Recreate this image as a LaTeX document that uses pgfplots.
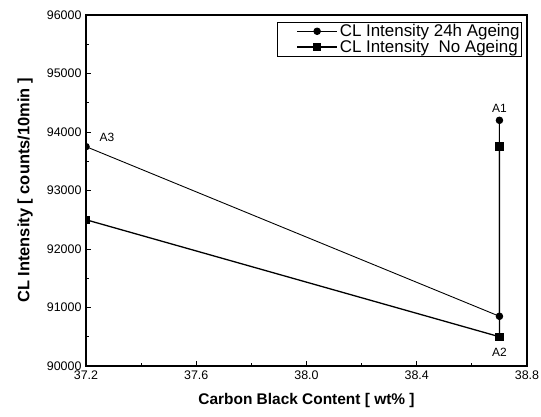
\documentclass[border=0pt]{standalone}
\usepackage{fontspec}
\setmainfont{Liberation Sans}
\usepackage{pgfplots}
\pgfplotsset{compat=1.18}

\begin{document}
\begin{tikzpicture}
  \begin{axis}[
      width=441bp, height=351bp, scale only axis,
      xmin=37.2, xmax=38.8, ymin=90000, ymax=96000,
      xtick={37.2,37.6,38.0,38.4,38.8},
      xticklabels={37.2,37.6,38.0,38.4,38.8},
      ytick={90000,91000,...,96000},
      scaled y ticks=false,
      yticklabel style={/pgf/number format/fixed, /pgf/number format/precision=0, xshift=-1bp},
      xticklabel style={yshift=-1bp},
      minor x tick num=1, minor y tick num=1,
      xtick pos=left, ytick pos=left, tick align=inside,
      major tick length=5bp, minor tick length=3bp,
      every tick/.style={black, line width=0.9pt},
      axis line style={line width=1.3pt},
      /pgf/number format/assume math mode=true,
      /pgf/number format/set thousands separator={},
      ticklabel style={font=\fontsize{12.5}{14}\selectfont},
      xlabel={\bfseries Carbon Black Content [ wt\% ]},
      ylabel={\bfseries CL Intensity [ counts/10min ]},
      xlabel style={font=\fontsize{15.5}{17}\selectfont, at={(axis description cs:0.5,-0.097)}, anchor=center},
      ylabel style={font=\fontsize{16.5}{18}\selectfont, at={(axis description cs:-0.138,0.5)}, anchor=center},
      clip marker paths=true,
      legend cell align=left,
      legend image code/.code={%
        \path (-18bp,0bp);
        \draw[#1, mark indices={2}] plot coordinates {(0bp,0bp) (20bp,0bp) (40bp,0bp)};},
      legend style={at={(1,1)}, anchor=north east, xshift=-5bp, yshift=-7bp,
        draw=black, line width=0.8pt, font=\fontsize{17}{17}\selectfont,
        inner xsep=1pt, inner ysep=1pt, row sep=0pt,
        nodes={inner sep=1pt},
        /tikz/every odd column/.append style={column sep=1pt}},
    ]
    \addplot[black, line width=0.9pt, mark=*, mark size=3.3pt, mark options={solid}]
      coordinates {(37.2,93750) (38.7,90850) (38.7,94200)};
    \addplot[black, line width=1.3pt, mark=square*, mark size=3.5pt, mark options={solid}]
      coordinates {(37.2,92500) (38.7,90500) (38.7,93750)};
    \legend{CL Intensity 24h Ageing, CL Intensity~~No Ageing}
    \node[font=\fontsize{12}{14}\selectfont, above=4bp] at (axis cs:38.7,94200) {A1};
    \node[font=\fontsize{12}{14}\selectfont, below=8bp] at (axis cs:38.7,90500) {A2};
    \node[font=\fontsize{12}{14}\selectfont, anchor=south west, inner sep=1pt] at (axis cs:37.245,93820) {A3};
  \end{axis}
  \pgfresetboundingbox
  \path ([xshift=-86bp,yshift=-51bp]current axis.south west) rectangle ([xshift=14bp,yshift=15bp]current axis.north east);
\end{tikzpicture}
\end{document}
